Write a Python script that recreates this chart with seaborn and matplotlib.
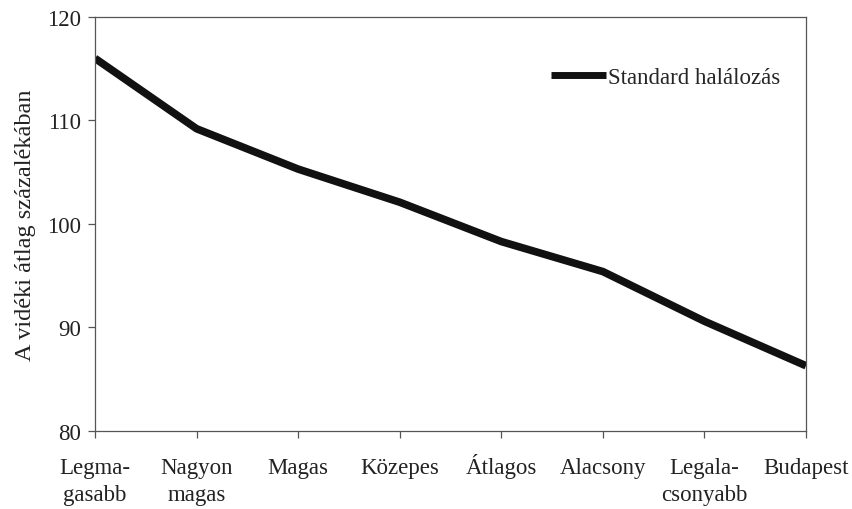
import pandas as pd
import matplotlib.pyplot as plt
import seaborn as sns

categories = ["Legma-\ngasabb", "Nagyon\nmagas", "Magas", "Közepes", "Átlagos",
              "Alacsony", "Legala-\ncsonyabb", "Budapest"]
values = [116.0, 109.2, 105.3, 102.1, 98.3, 95.4, 90.6, 86.3]
series_name = "Standard halálozás"
y_ticks = [80, 90, 100, 110, 120]

df = pd.DataFrame({"pos": range(len(categories)), "value": values, "series": series_name})

sns.set_style("white")
plt.rcParams['font.family'] = ['Liberation Serif', 'DejaVu Serif']

fig = plt.figure(figsize=(8.53, 5.10), dpi=100)
ax = fig.add_axes([0.1114, 0.153, 0.8335, 0.8118])

sns.lineplot(data=df, x="pos", y="value", hue="series", palette=["#111111"],
             linewidth=5.5, ax=ax, solid_capstyle="butt")

# pad single-line labels to two lines so every first line shares one baseline
x_labels = [c if "\n" in c else c + "\n " for c in categories]

ax.set_xlim(0, len(categories) - 1)
ax.set_ylim(80, 120)
ax.set_xticks(range(len(categories)))
ax.set_xticklabels(x_labels, fontsize=16.5, color="#222222", linespacing=1.4,
                   va="baseline")
ax.set_yticks(y_ticks)
ax.set_yticklabels([str(t) for t in y_ticks], fontsize=16.5, color="#222222")
ax.set_xlabel("")
ax.set_ylabel("A vidéki átlag százalékában", fontsize=17.5, color="#222222", labelpad=8)

for s in ax.spines.values():
    s.set_color("#555555")
    s.set_linewidth(0.9)
ax.tick_params(axis="both", direction="out", length=5, width=0.9, color="#555555",
               left=True, bottom=True)
ax.tick_params(axis="x", pad=45)
ax.tick_params(axis="y", pad=5)

leg = ax.legend(loc="upper right", bbox_to_anchor=(0.993, 0.929), frameon=False,
                fontsize=16.5, handlelength=2.4, handletextpad=0.1)
for line in leg.get_lines():
    line.set_linewidth(5)

fig.savefig("out.png", dpi=100)
